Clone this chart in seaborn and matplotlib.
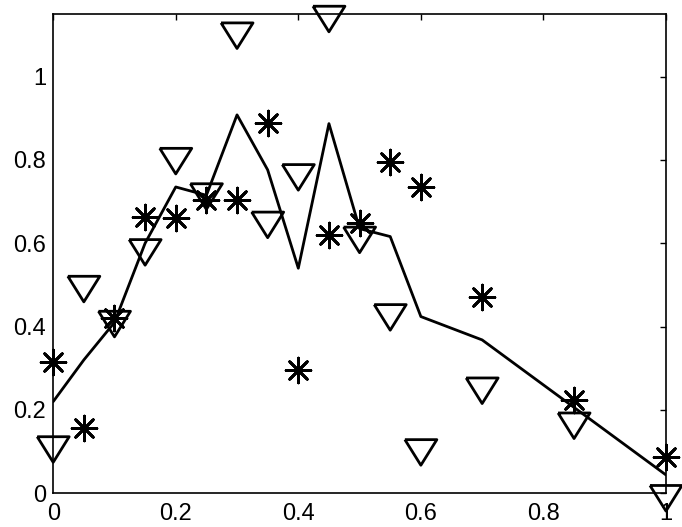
import numpy as np
import pandas as pd
import matplotlib
matplotlib.use("Agg")
import matplotlib.pyplot as plt
import seaborn as sns

# sample positions
x = [0.0, 0.05, 0.1, 0.15, 0.2, 0.25, 0.3, 0.35, 0.4, 0.45, 0.5, 0.55, 0.6, 0.7, 0.85, 1.0]

# fitted curve
fit = [0.22, 0.32, 0.41, 0.60, 0.735, 0.715, 0.908, 0.776, 0.54, 0.887, 0.635, 0.616, 0.424, 0.368, 0.206, 0.044]

# first set of observations (asterisks)
obs_a = [0.316, 0.156, 0.42, 0.664, 0.66, 0.704, 0.704, 0.889, 0.296, 0.62, 0.648, 0.796, 0.736, 0.472, 0.224, 0.088]

# second set of observations (triangles)
obs_b = [0.105, 0.49, 0.406, 0.578, 0.797, 0.712, 1.098, 0.644, 0.758, 1.138, 0.608, 0.422, 0.098, 0.246, 0.162, -0.012]

xticks = [0, 0.2, 0.4, 0.6, 0.8, 1]
xticklabels = ["0", "0.2", "0.4", "0.6", "0.8", "1"]
yticks = [0, 0.2, 0.4, 0.6, 0.8, 1]
yticklabels = ["0", "0.2", "0.4", "0.6", "0.8", "1"]

sns.set_theme(style="white")
plt.rcParams["font.family"] = ["Liberation Sans", "DejaVu Sans"]

df = pd.DataFrame({"x": x, "fit": fit, "a": obs_a, "b": obs_b})

fig = plt.figure(figsize=(6.82, 5.27), dpi=100)
ax = fig.add_axes([0.078, 0.064, 0.8985, 0.9094])

sns.lineplot(data=df, x="x", y="fit", ax=ax, color="black", linewidth=2.0,
             sort=False, estimator=None)

tri = [(-1.0, 0.8), (1.0, 0.8), (0.0, -0.8), (-1.0, 0.8)]
sns.scatterplot(data=df, x="x", y="b", ax=ax, marker=tri, s=530,
                facecolor="none", edgecolor="black", linewidth=2.0,
                clip_on=False, zorder=3)
sns.scatterplot(data=df, x="x", y="a", ax=ax, marker=(8, 2, 0), s=320,
                color="black", edgecolor="black", linewidth=2.0,
                clip_on=False, zorder=4)

ax.set_xlim(0, 1)
ax.set_ylim(0, 1.15)
ax.set_xticks(xticks)
ax.set_xticklabels(xticklabels)
ax.set_yticks(yticks)
ax.set_yticklabels(yticklabels)
ax.set_xlabel("")
ax.set_ylabel("")

ax.tick_params(direction="in", length=4, width=1.0, top=True, right=True,
               labelsize=17, colors="black")
ax.tick_params(axis="x", pad=7)
ax.tick_params(axis="y", pad=5)
for sp in ax.spines.values():
    sp.set_visible(True)
    sp.set_color("black")
    sp.set_linewidth(1.2)

fig.savefig("out.png", dpi=100, facecolor="white")
